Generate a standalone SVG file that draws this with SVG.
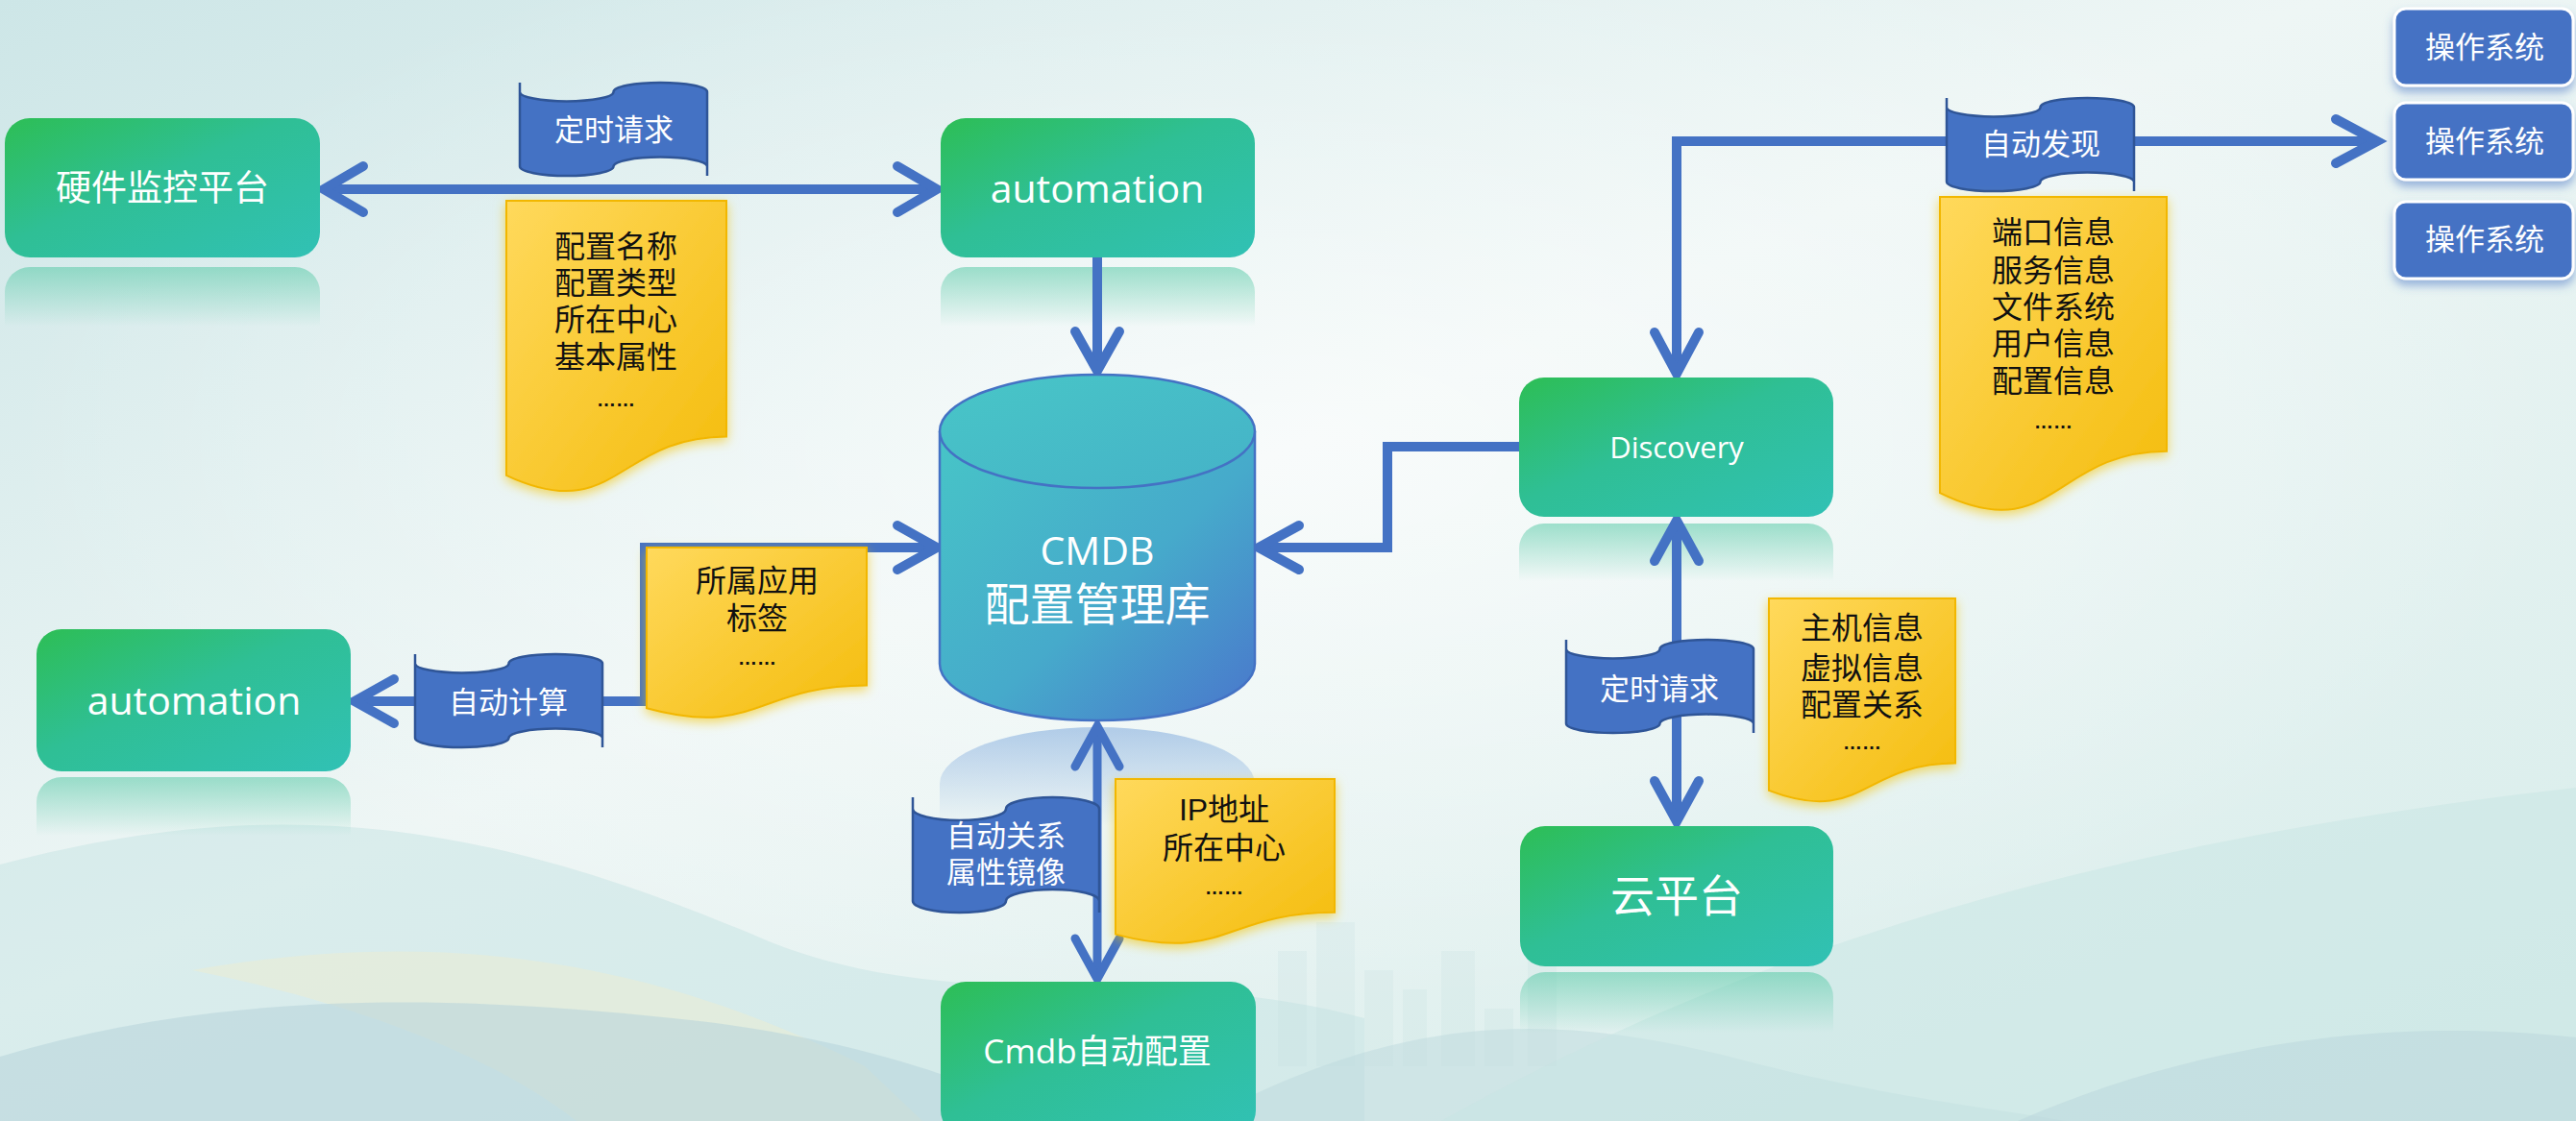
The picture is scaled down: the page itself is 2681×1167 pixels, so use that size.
<svg xmlns="http://www.w3.org/2000/svg" width="2681" height="1167" viewBox="0 0 2681 1167">
<defs>
<style>
.conn{fill:none;stroke:#4472C4;stroke-width:10;stroke-linejoin:miter}
.head{fill:none;stroke:#4472C4;stroke-width:10;stroke-linecap:round;stroke-linejoin:miter}
.flag{fill:#4472C4;stroke:#2F5597;stroke-width:2.5}
.note{fill:url(#gNote);stroke:#F2B705;stroke-width:2;filter:url(#noteGlow)}
.box{fill:url(#gBox)}
.refl{fill:url(#gRefl)}
.os{fill:#4472C4;stroke:#fff;stroke-width:3;filter:url(#osShadow)}
.wt{fill:#fff;font-family:"Open Sans","Noto Sans CJK SC",sans-serif;text-anchor:middle}
.wc{fill:#fff;font-family:"Liberation Sans","Noto Sans CJK SC",sans-serif;text-anchor:middle}
.bt{fill:#111;font-family:"Liberation Sans","Noto Sans CJK SC",sans-serif;text-anchor:middle;font-size:32px}
.dots{font-size:20px;font-weight:bold}
</style>
<linearGradient id="gBg" x1="0" y1="0" x2="1" y2="1">
<stop offset="0" stop-color="#CDE6E7"/>
<stop offset="0.45" stop-color="#EEF6F5"/>
<stop offset="1" stop-color="#D6ECEA"/>
</linearGradient>
<radialGradient id="gBgR" cx="0.5" cy="0.4" r="0.5">
<stop offset="0" stop-color="#FFFFFF" stop-opacity="0.6"/>
<stop offset="1" stop-color="#FFFFFF" stop-opacity="0"/>
</radialGradient>
<linearGradient id="gBox" x1="0" y1="0" x2="1" y2="1">
<stop offset="0" stop-color="#2DBE55"/>
<stop offset="0.45" stop-color="#2FBF95"/>
<stop offset="1" stop-color="#31C1B5"/>
</linearGradient>
<linearGradient id="gRefl" x1="0" y1="0" x2="0" y2="1">
<stop offset="0" stop-color="#56C9A6" stop-opacity="0.55"/>
<stop offset="1" stop-color="#56C9A6" stop-opacity="0"/>
</linearGradient>
<linearGradient id="gCyl" x1="0" y1="0" x2="1" y2="1">
<stop offset="0" stop-color="#47C5C7"/>
<stop offset="0.55" stop-color="#46AACB"/>
<stop offset="1" stop-color="#4A76CC"/>
</linearGradient>
<linearGradient id="gCylTop" x1="0" y1="0" x2="1" y2="1">
<stop offset="0" stop-color="#48C6C7"/>
<stop offset="1" stop-color="#45B2C8"/>
</linearGradient>
<linearGradient id="gCylRefl" x1="0" y1="0" x2="0" y2="1">
<stop offset="0" stop-color="#8EB4E0" stop-opacity="0.65"/>
<stop offset="1" stop-color="#8EB4E0" stop-opacity="0"/>
</linearGradient>
<linearGradient id="gNote" x1="0" y1="0" x2="1" y2="1">
<stop offset="0" stop-color="#FFD95C"/>
<stop offset="1" stop-color="#F4BC0C"/>
</linearGradient>
<filter id="noteGlow" x="-20%" y="-20%" width="140%" height="140%">
<feDropShadow dx="0" dy="4" stdDeviation="6" flood-color="#F2C200" flood-opacity="0.6"/>
</filter>
<filter id="osShadow" x="-20%" y="-20%" width="140%" height="160%">
<feDropShadow dx="0" dy="6" stdDeviation="5" flood-color="#4472C4" flood-opacity="0.5"/>
</filter>
<path id="flagShape" d="M0,0 L0,9.7 A48.75,9.7 0 0 0 97.5,9.7 A48.75,9.7 0 0 1 195,9.7 L195,97 L195,87.3 A48.75,9.7 0 0 0 97.5,87.3 A48.75,9.7 0 0 1 0,87.3 Z"/>
</defs>

<!-- background -->
<g id="background">
<rect x="0" y="0" width="2681" height="1167" fill="url(#gBg)"/>
<rect x="0" y="0" width="2681" height="1167" fill="url(#gBgR)"/>
<path d="M0,900 C300,820 520,860 800,980 C1000,1060 1200,1000 1420,1060 L1420,1167 L0,1167 Z" fill="#C6E4E4" opacity="0.5"/>
<path d="M200,1010 C480,960 700,1010 900,1110 L960,1167 L600,1167 C500,1090 350,1040 200,1010 Z" fill="#F3EDCB" opacity="0.4"/>
<path d="M0,1100 C200,1040 420,1030 700,1060 C900,1080 1020,1130 1100,1167 L0,1167 Z" fill="#B7D4DA" opacity="0.55"/>
<path d="M1250,1167 C1450,1060 1600,1050 1800,1100 C1950,1140 2050,1150 2150,1167 Z" fill="#BBD8DC" opacity="0.45"/>
<path d="M1500,1167 C1800,1000 2150,880 2681,820 L2681,1167 Z" fill="#C8E6E3" opacity="0.5"/>
<path d="M2100,1167 C2300,1080 2500,1060 2681,1080 L2681,1167 Z" fill="#B9D6DB" opacity="0.5"/>
<g fill="#C2DEE0" opacity="0.2">
<rect x="1330" y="990" width="30" height="120"/>
<rect x="1370" y="960" width="40" height="150"/>
<rect x="1420" y="1010" width="30" height="100"/>
<rect x="1460" y="1030" width="25" height="80"/>
<rect x="1500" y="990" width="35" height="120"/>
<rect x="1545" y="1050" width="30" height="60"/>
<rect x="1590" y="930" width="30" height="180"/>
</g>
</g>

<!-- reflections -->
<g id="reflections">
<path class="refl" d="M5,304 A26,26 0 0 1 31,278 H307 A26,26 0 0 1 333,304 V340 H5 Z"/>
<path class="refl" d="M979,304 A26,26 0 0 1 1005,278 H1280 A26,26 0 0 1 1306,304 V340 H979 Z"/>
<path class="refl" d="M38,835 A26,26 0 0 1 64,809 H339 A26,26 0 0 1 365,835 V870 H38 Z"/>
<path class="refl" d="M1581,571 A26,26 0 0 1 1607,545 H1882 A26,26 0 0 1 1908,571 V605 H1581 Z"/>
<path class="refl" d="M1582,1038 A26,26 0 0 1 1608,1012 H1882 A26,26 0 0 1 1908,1038 V1075 H1582 Z"/>
<path d="M978,816 A164,59 0 0 1 1306,816 V860 H978 Z" fill="url(#gCylRefl)"/>
</g>

<!-- connectors -->
<g id="connectors">
<path class="conn" d="M340,197 H972"/>
<polyline class="head" points="378,173 337,197 378,221"/>
<polyline class="head" points="934,173 975,197 934,221"/>

<path class="conn" d="M1142,268 V382"/>
<polyline class="head" points="1119,345 1142,386 1165,345"/>

<path class="conn" d="M1581,465 H1444 V570 H1314"/>
<polyline class="head" points="1352,547 1310,570 1352,593"/>

<path class="conn" d="M372,730 H671 V570 H972"/>
<polyline class="head" points="410,707 369,730 410,753"/>
<polyline class="head" points="934,547 975,570 934,593"/>

<path class="conn" style="stroke-width:9" d="M1142,758 V1016"/>
<polyline class="head" style="stroke-width:9" points="1119,798 1142,756 1165,798"/>
<polyline class="head" style="stroke-width:9" points="1119,977 1142,1019 1165,977"/>

<path class="conn" d="M1745,386 V147 H2470"/>
<polyline class="head" points="1722,346 1745,389 1768,346"/>
<polyline class="head" points="2431,124 2474,147 2431,170"/>

<path class="conn" d="M1745,545 V852"/>
<polyline class="head" points="1722,584 1745,542 1768,584"/>
<polyline class="head" points="1722,813 1745,855 1768,813"/>
</g>

<!-- nodes -->
<g id="node-hardware">
<rect class="box" x="5" y="123" width="328" height="145" rx="26"/>
<text class="wc" x="169" y="209" font-size="37">硬件监控平台</text>
</g>
<g id="node-automation-top">
<rect class="box" x="979" y="123" width="327" height="145" rx="26"/>
<text class="wt" x="1142" y="211" font-size="41">automation</text>
</g>
<g id="node-automation-left">
<rect class="box" x="38" y="655" width="327" height="148" rx="26"/>
<text class="wt" x="202" y="744" font-size="41">automation</text>
</g>
<g id="node-cmdb">
<path d="M978,449 V691 A164,59 0 0 0 1306,691 V449" fill="url(#gCyl)" stroke="#4472C4" stroke-width="2.5"/>
<ellipse cx="1142" cy="449" rx="164" ry="59" fill="url(#gCylTop)" stroke="#4472C4" stroke-width="2.5"/>
<text class="wt" x="1142" y="588" font-size="41">CMDB</text>
<text class="wc" x="1142" y="646" font-size="47">配置管理库</text>
</g>
<g id="node-discovery">
<rect class="box" x="1581" y="393" width="327" height="145" rx="26"/>
<text class="wt" x="1745" y="477" font-size="31">Discovery</text>
</g>
<g id="node-cloud">
<rect class="box" x="1582" y="860" width="326" height="146" rx="26"/>
<text class="wc" x="1745" y="949" font-size="46">云平台</text>
</g>
<g id="node-cmdb-auto">
<rect class="box" x="979" y="1022" width="328" height="160" rx="26"/>
<text class="wt" x="1142" y="1107" font-size="35">Cmdb自动配置</text>
</g>
<g id="node-os-1">
<rect class="os" x="2492" y="9" width="186" height="80" rx="12"/>
<text class="wc" x="2586" y="60" font-size="31">操作系统</text>
</g>
<g id="node-os-2">
<rect class="os" x="2492" y="107" width="186" height="80" rx="12"/>
<text class="wc" x="2586" y="158" font-size="31">操作系统</text>
</g>
<g id="node-os-3">
<rect class="os" x="2492" y="210" width="186" height="80" rx="12"/>
<text class="wc" x="2586" y="260" font-size="31">操作系统</text>
</g>

<!-- flags -->
<g id="flag-timer-top">
<use href="#flagShape" class="flag" transform="translate(541,86)"/>
<text class="wc" x="639" y="146" font-size="31">定时请求</text>
</g>
<g id="flag-discover">
<use href="#flagShape" class="flag" transform="translate(2026,102)"/>
<text class="wc" x="2124" y="161" font-size="31">自动发现</text>
</g>
<g id="flag-compute">
<use href="#flagShape" class="flag" transform="translate(432,681)"/>
<text class="wc" x="529" y="742" font-size="31">自动计算</text>
</g>
<g id="flag-timer-right">
<use href="#flagShape" class="flag" transform="translate(1630,666)"/>
<text class="wc" x="1727" y="728" font-size="31">定时请求</text>
</g>
<g id="flag-relation">
<path class="flag" transform="translate(950,830)" d="M0,0 L0,12 A48.5,12 0 0 0 97,12 A48.5,12 0 0 1 194,12 L194,120 L194,108 A48.5,12 0 0 0 97,108 A48.5,12 0 0 1 0,108 Z"/>
<text class="wc" x="1047" y="881" font-size="31">自动关系<tspan x="1047" y="919">属性镜像</tspan></text>
</g>

<!-- notes -->
<g id="note-config">
<path class="note" transform="translate(527,209)" d="M0,0 H229 V245.4 C114.5,245.4 114.5,339 0,285.8 Z"/>
<text class="bt" x="641" y="268">配置名称<tspan x="641" y="306">配置类型</tspan><tspan x="641" y="344">所在中心</tspan><tspan x="641" y="383">基本属性</tspan><tspan class="dots" x="641" y="423">……</tspan></text>
</g>
<g id="note-discover">
<path class="note" transform="translate(2019,205)" d="M0,0 H236 V264.7 C118,264.7 118,365.6 0,308.2 Z"/>
<text class="bt" x="2137" y="253">端口信息<tspan x="2137" y="293">服务信息</tspan><tspan x="2137" y="331">文件系统</tspan><tspan x="2137" y="369">用户信息</tspan><tspan x="2137" y="408">配置信息</tspan><tspan class="dots" x="2137" y="446">……</tspan></text>
</g>
<g id="note-app">
<path class="note" transform="translate(673,570)" d="M0,0 H229 V143.6 C114.5,143.6 114.5,198.3 0,167.2 Z"/>
<text class="bt" x="788" y="616">所属应用<tspan x="788" y="655">标签</tspan><tspan class="dots" x="788" y="692">……</tspan></text>
</g>
<g id="note-host">
<path class="note" transform="translate(1841,623)" d="M0,0 H194 V171.6 C97,171.6 97,237.1 0,199.9 Z"/>
<text class="bt" x="1938" y="665" font-size="33">主机信息<tspan x="1938" y="707">虚拟信息</tspan><tspan x="1938" y="745">配置关系</tspan><tspan class="dots" x="1938" y="780">……</tspan></text>
</g>
<g id="note-ip">
<path class="note" transform="translate(1161,811)" d="M0,0 H228 V138.7 C114,138.7 114,191.7 0,161.6 Z"/>
<text class="bt" x="1274" y="854">IP地址<tspan x="1274" y="894">所在中心</tspan><tspan class="dots" x="1274" y="931">……</tspan></text>
</g>
</svg>
